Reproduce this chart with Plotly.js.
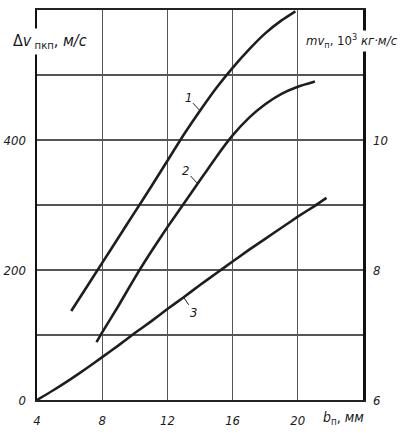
<!DOCTYPE html>
<html>
<head>
<meta charset="utf-8">
<script src="https://cdn.plot.ly/plotly-3.0.1.min.js"></script>
<style>html,body{margin:0;padding:0;background:#fff;}#chart{width:400px;height:437px;}</style>
</head>
<body>
<div id="chart"></div>
<script>
// Curve 1
const x1 = [6.1, 7, 8, 9, 10, 11, 12, 13, 14, 15, 16, 17, 18, 19, 19.85];
const y1 = [137, 172, 211, 250, 289, 328, 368, 408, 445, 480, 511, 539, 564, 584, 598];
// Curve 2
const x2 = [7.65, 8, 9, 10, 11, 12, 13, 14, 15, 16, 17, 18, 19, 20, 21.05];
const y2 = [89, 104, 145, 188, 228, 266, 302, 338, 374, 407, 434, 455, 471, 482, 490];
// Curve 3
const x3 = [4, 5, 6, 7, 8, 9, 10, 11, 12, 13, 14, 15, 16, 17, 18, 19, 20, 21, 21.76];
const y3 = [0, 15, 31, 48, 66, 84, 103, 121, 140, 158, 177, 195, 213, 231, 248, 265, 282, 298, 311];

const xTicks = [4, 8, 12, 16, 20, 24];
const xTickText = ['4', '8', '12', '16', '20', ''];
const yTicks = [0, 100, 200, 300, 400, 500, 600];
const yTickText = ['0', '', '200', '', '400', '', ''];
const y2Ticks = [6, 8, 10];
const y2TickText = ['6', '8', '10'];
const curveLabels = ['1', '2', '3'];

const FAM = 'DejaVu Sans Condensed, Liberation Sans Narrow, sans-serif';
const tickFont = {family: FAM, size: 13, color: '#1a1a1a', style: 'italic'};
const lineStyle = {color: '#1e1e1e', width: 2.6, shape: 'spline', smoothing: 0.5};

const traces = [
  {x: x1, y: y1, mode: 'lines', line: lineStyle, hoverinfo: 'skip', showlegend: false},
  {x: x2, y: y2, mode: 'lines', line: lineStyle, hoverinfo: 'skip', showlegend: false},
  {x: x3, y: y3, mode: 'lines', line: lineStyle, hoverinfo: 'skip', showlegend: false},
  {x: [], y: [], yaxis: 'y2', mode: 'lines', hoverinfo: 'skip', showlegend: false}
];

const layout = {
  width: 400, height: 437,
  margin: {l: 37, r: 37, t: 10, b: 37},
  paper_bgcolor: '#fff', plot_bgcolor: '#fff',
  showlegend: false,
  xaxis: {
    range: [4, 24], tickvals: xTicks, ticktext: xTickText,
    showgrid: true, gridcolor: '#555', gridwidth: 1.3,
    zeroline: false, showline: true, linecolor: '#222', linewidth: 2, mirror: true,
    ticks: '', ticklabelstandoff: 7, tickfont: tickFont
  },
  yaxis: {
    range: [0, 600], tickvals: yTicks, ticktext: yTickText,
    showgrid: true, gridcolor: '#555', gridwidth: 1.3,
    zeroline: false, showline: true, linecolor: '#111', linewidth: 2.5, mirror: true,
    ticks: '', ticklabelstandoff: 6, tickfont: tickFont
  },
  yaxis2: {
    range: [6, 12], overlaying: 'y', side: 'right', anchor: 'x',
    tickvals: y2Ticks, ticktext: y2TickText, showgrid: false, zeroline: false,
    showline: false, ticks: '', ticklabelstandoff: 9, tickfont: tickFont
  },
  annotations: [
    {xref: 'paper', yref: 'paper', x: -0.084, y: 0.92, xanchor: 'left', yanchor: 'middle', showarrow: false,
     bgcolor: '#fff', borderpad: 2,
     text: 'Δ<i>v</i><sub> пкп</sub>, <i>м/с</i>', font: {family: FAM, size: 16, color: '#1a1a1a'}},
    {xref: 'paper', yref: 'paper', x: 1.115, y: 0.92, xanchor: 'right', yanchor: 'middle', showarrow: false,
     bgcolor: '#fff', borderpad: 1,
     text: '<i>mv</i><sub>п</sub>, 10<sup>3</sup> <i>кг·м/с</i>', font: {family: FAM, size: 13, color: '#1a1a1a'}},
    {xref: 'paper', yref: 'paper', x: 0.87, y: -0.045, xanchor: 'left', yanchor: 'middle', showarrow: false,
     text: '<i>b</i><sub>п</sub>, <i>мм</i>', font: {family: FAM, size: 14, color: '#1a1a1a'}},
    {x: x1[8], y: y1[8], xref: 'x', yref: 'y', text: '<i>' + curveLabels[0] + '</i>', showarrow: true, arrowhead: 0,
     arrowwidth: 1, arrowcolor: '#222', ax: -12, ay: -13, font: tickFont},
    {x: 13.85, y: 333, xref: 'x', yref: 'y', text: '<i>' + curveLabels[1] + '</i>', showarrow: true, arrowhead: 0,
     arrowwidth: 1, arrowcolor: '#222', ax: -12, ay: -13, font: tickFont},
    {x: x3[9], y: y3[9], xref: 'x', yref: 'y', text: '<i>' + curveLabels[2] + '</i>', showarrow: true, arrowhead: 0,
     arrowwidth: 1, arrowcolor: '#222', ax: 10, ay: 15, font: tickFont}
  ]
};

Plotly.newPlot('chart', traces, layout, {staticPlot: true, displayModeBar: false});
</script>
</body>
</html>
